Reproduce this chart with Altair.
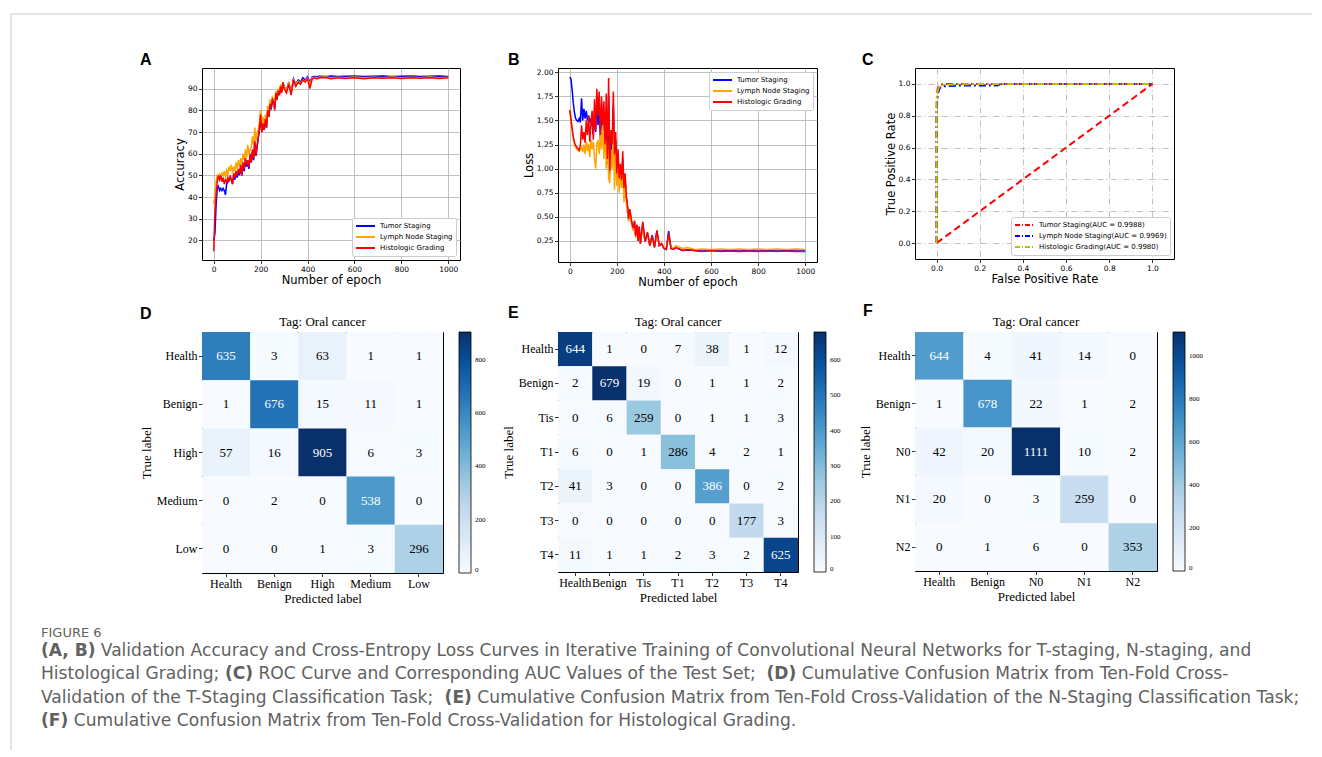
import altair as alt
import pandas as pd

# ---------------- data ----------------
epochs = list(range(0, 300, 5)) + list(range(300, 460, 10)) + [480, 500, 530, 560, 600, 640, 680, 720, 760, 800, 840, 880, 920, 960, 1000]

acc_tumor = [20, 23, 36, 44, 45, 43, 44, 43, 44, 43,
             41, 46, 47, 48, 49, 48, 46, 50, 48, 51,
             49, 52, 50, 54, 50, 55, 52, 57, 54, 56,
             53, 59, 56, 61, 57, 65, 59, 63, 67, 71,
             77, 70, 73, 71, 75, 72, 79, 77, 82, 81,
             84, 84, 81, 87, 85, 89, 87, 91, 89, 93,
             91, 89, 93, 88, 94.5, 92, 94, 93, 95, 94, 95.5, 93, 95.5, 95.6, 95.5, 95.7,
             95.6, 95.8, 95.6, 95.7, 95.8, 95.6, 95.7, 95.8, 95.6, 95.7, 95.8, 95.6, 95.7, 95.8, 95.6]
acc_lymph = [37, 41, 47, 50, 49, 51, 48, 51, 50, 52,
             49, 53, 50, 54, 52, 55, 51, 54, 52, 56,
             53, 57, 54, 58, 55, 60, 57, 62, 58, 64,
             60, 62, 63, 68, 64, 72, 66, 70, 71, 75,
             80, 74, 77, 73, 78, 75, 82, 79, 85, 83,
             86, 85, 84, 89, 87, 90, 88, 92, 90, 93,
             91, 89, 92.5, 88, 94, 92, 93.5, 92.5, 94, 93.5, 95, 92, 95, 95.2, 95, 95.2,
             95.3, 95, 95.2, 95, 95.3, 95, 95.2, 95, 95.3, 95, 95.2, 95, 95.3, 95, 95.2]
acc_hist = [15, 33, 41, 47, 50, 48, 50, 47, 49, 46,
            48, 47, 49, 47, 50, 48, 46, 51, 49, 52,
            50, 53, 51, 55, 50, 56, 53, 58, 55, 57,
            54, 60, 56, 62, 58, 66, 59, 64, 68, 72,
            78, 70, 74, 71, 76, 72, 80, 77, 83, 81,
            85, 84, 80, 88, 85, 89, 87, 91, 88, 93,
            90, 88, 92, 87, 94, 91, 93, 92, 94, 93, 94.5, 90, 94.5, 95, 94.5, 95,
            95, 94.5, 95, 94.7, 95, 94.6, 95, 94.8, 95, 94.7, 95, 94.8, 95, 94.7, 95]

loss_tumor = [1.95, 1.93, 1.82, 1.68, 1.58, 1.52, 1.50, 1.49, 1.52, 1.48,
              1.73, 1.50, 1.62, 1.52, 1.60, 1.50, 1.55, 1.48, 1.52, 1.45,
              1.35, 1.60, 1.38, 1.70, 1.45, 1.65, 1.30, 1.60, 1.40, 1.55,
              1.20, 1.60, 1.05, 1.75, 0.95, 1.30, 1.15, 1.65, 1.05, 1.30,
              0.90, 1.12, 0.85, 1.00, 0.85, 1.10, 0.78, 0.90, 0.70, 0.60,
              0.47, 0.56, 0.48, 0.41, 0.37, 0.45, 0.30, 0.41, 0.25, 0.39,
              0.22, 0.43, 0.24, 0.33, 0.20, 0.31, 0.19, 0.35, 0.20, 0.22, 0.17, 0.16, 0.35, 0.17, 0.16, 0.18,
              0.15, 0.155, 0.15, 0.145, 0.15, 0.145, 0.15, 0.145, 0.15, 0.145, 0.15, 0.145, 0.15, 0.145, 0.145]
loss_lymph = [1.60, 1.50, 1.40, 1.31, 1.25, 1.22, 1.20, 1.19, 1.18, 1.20,
              1.22, 1.17, 1.25, 1.15, 1.28, 1.18, 1.26, 1.12, 1.30, 1.20,
              1.28, 1.10, 1.00, 1.25, 1.30, 1.15, 1.35, 1.20, 1.50, 1.10,
              1.40, 1.00, 1.30, 0.90, 0.85, 1.20, 1.00, 1.45, 0.78, 1.20,
              0.82, 1.05, 0.75, 0.95, 0.80, 1.00, 0.65, 0.85, 0.65, 0.55,
              0.45, 0.55, 0.45, 0.40, 0.35, 0.42, 0.28, 0.38, 0.26, 0.36,
              0.22, 0.40, 0.24, 0.32, 0.21, 0.28, 0.19, 0.30, 0.21, 0.22, 0.18, 0.18, 0.28, 0.18, 0.17, 0.20,
              0.17, 0.18, 0.16, 0.165, 0.16, 0.165, 0.16, 0.165, 0.16, 0.165, 0.16, 0.165, 0.16, 0.165, 0.16]
loss_hist = [1.61, 1.52, 1.42, 1.33, 1.27, 1.24, 1.22, 1.21, 1.19, 1.24,
             1.45, 1.30, 1.38, 1.27, 1.50, 1.35, 1.55, 1.28, 1.48, 1.60,
             1.30, 1.72, 1.40, 1.83, 1.55, 1.80, 1.35, 1.75, 1.45, 1.70,
             1.25, 1.78, 1.10, 1.94, 0.98, 1.40, 1.25, 1.80, 1.15, 1.38,
             0.95, 1.20, 0.90, 1.05, 0.88, 1.18, 0.80, 0.95, 0.72, 0.62,
             0.48, 0.58, 0.50, 0.42, 0.38, 0.46, 0.30, 0.42, 0.25, 0.40,
             0.22, 0.45, 0.24, 0.34, 0.20, 0.30, 0.18, 0.36, 0.20, 0.22, 0.17, 0.16, 0.33, 0.17, 0.16, 0.18,
             0.15, 0.16, 0.15, 0.14, 0.15, 0.14, 0.145, 0.14, 0.145, 0.14, 0.145, 0.14, 0.145, 0.14, 0.14]

series_names = ["Tumor Staging", "Lymph Node Staging", "Histologic Grading"]
series_colors = ["#0000ff", "#ffa500", "#ff0000"]
epoch_ticks = [0, 200, 400, 600, 800, 1000]
acc_ticks = [20, 30, 40, 50, 60, 70, 80, 90]
loss_ticks = [0.25, 0.5, 0.75, 1.0, 1.25, 1.5, 1.75, 2.0]

roc_names = ["Tumor Staging(AUC = 0.9988)", "Lymph Node Staging(AUC = 0.9969)", "Histologic Grading(AUC = 0.9980)"]
roc_colors = ["#ff0000", "#0000ff", "#bfbf00"]
fpr_tumor = [0, 0, 0.002, 0.005, 0.01, 0.02, 0.04, 0.1, 1.0]
tpr_tumor = [0, 0.85, 0.93, 0.97, 0.985, 0.995, 1.0, 1.0, 1.0]
fpr_lymph = [0, 0, 0.003, 0.008, 0.015, 0.03, 0.1, 0.28, 0.3, 1.0]
tpr_lymph = [0, 0.80, 0.90, 0.95, 0.975, 0.985, 0.99, 0.99, 1.0, 1.0]
fpr_hist = [0, 0, 0.004, 0.01, 0.02, 0.05, 0.2, 1.0]
tpr_hist = [0, 0.90, 0.95, 0.975, 0.99, 0.995, 1.0, 1.0]
diag_fpr = [0, 1]
diag_tpr = [0, 1]
rate_ticks = [0, 0.2, 0.4, 0.6, 0.8, 1.0]

cm_d_labels = ["Health", "Benign", "High", "Medium", "Low"]
cm_d = [[635, 3, 63, 1, 1],
        [1, 676, 15, 11, 1],
        [57, 16, 905, 6, 3],
        [0, 2, 0, 538, 0],
        [0, 0, 1, 3, 296]]
cm_d_ticks = [0, 200, 400, 600, 800]

cm_e_labels = ["Health", "Benign", "Tis", "T1", "T2", "T3", "T4"]
cm_e = [[644, 1, 0, 7, 38, 1, 12],
        [2, 679, 19, 0, 1, 1, 2],
        [0, 6, 259, 0, 1, 1, 3],
        [6, 0, 1, 286, 4, 2, 1],
        [41, 3, 0, 0, 386, 0, 2],
        [0, 0, 0, 0, 0, 177, 3],
        [11, 1, 1, 2, 3, 2, 625]]
cm_e_ticks = [0, 100, 200, 300, 400, 500, 600]

cm_f_labels = ["Health", "Benign", "N0", "N1", "N2"]
cm_f = [[644, 4, 41, 14, 0],
        [1, 678, 22, 1, 2],
        [42, 20, 1111, 10, 2],
        [20, 0, 3, 259, 0],
        [0, 1, 6, 0, 353]]
cm_f_ticks = [0, 200, 400, 600, 800, 1000]

blues = ["#f7fbff", "#deebf7", "#c6dbef", "#9ecae1", "#6baed6", "#4292c6", "#2171b5", "#08519c", "#08306b"]

caption_head = "FIGURE 6"
caption_lines = [
    [("(A, B)", True), ("Validation Accuracy and Cross-Entropy Loss Curves in Iterative Training of Convolutional Neural Networks for T-staging, N-staging, and", False)],
    [("Histological Grading;", False), ("(C)", True), ("ROC Curve and Corresponding AUC Values of the Test Set;", False), ("(D)", True), ("Cumulative Confusion Matrix from Ten-Fold Cross-", False)],
    [("Validation of the T-Staging Classification Task;", False), ("(E)", True), ("Cumulative Confusion Matrix from Ten-Fold Cross-Validation of the N-Staging Classification Task;", False)],
    [("(F)", True), ("Cumulative Confusion Matrix from Ten-Fold Cross-Validation for Histological Grading.", False)],
]

# ---------------- layout helpers ----------------
# approximate DejaVu Sans advance widths (em), used only to place caption segments side by side
DJ = {" ": .318, "(": .390, ")": .390, ",": .318, "-": .361, ".": .318, ";": .337, "=": .838,
      "A": .684, "B": .686, "C": .698, "D": .770, "E": .632, "F": .575, "G": .775, "H": .752, "I": .295,
      "J": .295, "K": .656, "L": .557, "M": .863, "N": .748, "O": .787, "P": .603, "Q": .787, "R": .695,
      "S": .635, "T": .611, "U": .732, "V": .684, "W": .989, "X": .685, "Y": .611, "Z": .685,
      "a": .613, "b": .635, "c": .550, "d": .635, "e": .615, "f": .352, "g": .635, "h": .634, "i": .278,
      "j": .278, "k": .579, "l": .278, "m": .974, "n": .634, "o": .612, "p": .635, "q": .635, "r": .411,
      "s": .521, "t": .392, "u": .634, "v": .592, "w": .818, "x": .592, "y": .592, "z": .525}
DJB = {" ": .348, "(": .457, ")": .457, ",": .380, "A": .774, "B": .762, "C": .734, "D": .830, "E": .683, "F": .683}


def text_width(s, size, bold):
    tot = 0.0
    for ch in s:
        w = DJ.get(ch, 0.6)
        if bold:
            w = DJB.get(ch, w * 1.1)
        tot += w
    return tot * size


CAP_SIZE = 17.1
CAP_LEFT = -161            # page x 40, relative to panel A's plot origin
CAP_BASE = [588, 611, 634.5, 658]

one = pd.DataFrame({"k": [0]})
CAP = "#616161"


def label(text, x, y, size, font, color="black", weight="normal"):
    return alt.Chart(one).mark_text(text=text, font=font, fontSize=size, fontWeight=weight,
                                    color=color, align="left", baseline="alphabetic").encode(
        x=alt.value(x), y=alt.value(y))


def letter(ch, x, y):
    return label(ch, x, y, 16, "Liberation Sans", weight="bold")


def lin_axis(title, values, fmt, dash=None):
    kw = dict(title=title, values=values, format=fmt, grid=True, gridColor="#b0b0b0", gridWidth=0.8,
              domain=False, ticks=True, tickColor="black", tickSize=3.5, tickWidth=0.8,
              labelFont="DejaVu Sans", labelFontSize=7.5, labelColor="black", labelPadding=1.5,
              labelOverlap=False,
              titleFont="DejaVu Sans", titleFontSize=11.5, titleFontWeight="normal", titleColor="black",
              titlePadding=2)
    if dash:
        kw["gridDash"] = dash
    return alt.Axis(**kw)


def line_legend(orient, dash=None):
    kw = dict(title=None, orient=orient, offset=4, symbolType="stroke", symbolSize=360,
              symbolStrokeWidth=1.8, labelFont="DejaVu Sans", labelFontSize=7, labelColor="black",
              labelOffset=4, padding=3, rowPadding=1, clipHeight=10, strokeColor="#cccccc",
              fillColor="white", cornerRadius=2)
    if dash:
        kw["symbolDash"] = dash
    return alt.Legend(**kw)


def curve_panel(series_values, ydom, yticks, ytitle, yfmt, orient):
    layers = []
    for name, vals in zip(series_names, series_values):
        df = pd.DataFrame({"epoch": epochs, "value": vals, "series": name})
        layers.append(alt.Chart(df).mark_line(strokeWidth=1.5).encode(
            x=alt.X("epoch:Q", scale=alt.Scale(domain=[-50, 1050], nice=False, zero=False),
                    axis=lin_axis("Number of epoch", epoch_ticks, "d")),
            y=alt.Y("value:Q", scale=alt.Scale(domain=ydom, nice=False, zero=False),
                    axis=lin_axis(ytitle, yticks, yfmt)),
            color=alt.Color("series:N", scale=alt.Scale(domain=series_names, range=series_colors),
                            legend=line_legend(orient))))
    return layers


# ---------------- Panel A (also carries the frame, letters and caption) ----------------
A_layers = curve_panel([acc_tumor, acc_lymph, acc_hist], [11, 99.5], acc_ticks, "Accuracy", "d", "bottom-right")
A_extra = [letter("A", -62, -3), letter("D", -62, 250.5), letter("E", 306, 250), letter("F", 661, 248),
           alt.Chart(one).mark_rule(color="#cccccc", strokeWidth=1).encode(
               x=alt.value(-191), x2=alt.value(1110), y=alt.value(-54)),
           alt.Chart(one).mark_rule(color="#cccccc", strokeWidth=1).encode(
               x=alt.value(-191), y=alt.value(-54), y2=alt.value(682)),
           label(caption_head, CAP_LEFT, 569, 13, "DejaVu Sans", color=CAP)]
for segs, base_y in zip(caption_lines, CAP_BASE):
    cx = CAP_LEFT
    for txt, bold in segs:
        A_extra.append(label(txt, cx, base_y, CAP_SIZE, "DejaVu Sans", color=CAP,
                             weight="bold" if bold else "normal"))
        cx += text_width(txt, CAP_SIZE, bold) + text_width(" ", CAP_SIZE, False)
A = alt.layer(*A_layers, *A_extra).properties(width=258, height=192)

# ---------------- Panel B ----------------
B_layers = curve_panel([loss_tumor, loss_lymph, loss_hist], [0.03, 2.045], loss_ticks, "Loss", ".2f", "top-right")
B = alt.layer(*B_layers, letter("B", -50, -3.5)).properties(width=259, height=194)

# ---------------- Panel C ----------------
roc_x = alt.X("fpr:Q", scale=alt.Scale(domain=[-0.1, 1.1], nice=False, zero=False),
              axis=lin_axis("False Positive Rate", rate_ticks, ".1f", [6, 3, 1, 3]))
roc_y = alt.Y("tpr:Q", scale=alt.Scale(domain=[-0.1, 1.1], nice=False, zero=False),
              axis=lin_axis("True Positive Rate", rate_ticks, ".1f", [6, 3, 1, 3]))
roc_layers = []
for name, fx, ty in zip(roc_names, [fpr_tumor, fpr_lymph, fpr_hist], [tpr_tumor, tpr_lymph, tpr_hist]):
    df = pd.DataFrame({"fpr": fx, "tpr": ty, "series": name, "idx": list(range(len(fx)))})
    roc_layers.append(alt.Chart(df).mark_line(strokeWidth=2, strokeDash=[7, 3, 2, 3]).encode(
        x=roc_x, y=roc_y, order="idx:Q",
        color=alt.Color("series:N", scale=alt.Scale(domain=roc_names, range=roc_colors),
                        legend=line_legend("bottom-right", [5, 2, 1, 2]))))
diag = alt.Chart(pd.DataFrame({"fpr": diag_fpr, "tpr": diag_tpr})).mark_line(
    color="#ff0000", strokeWidth=2, strokeDash=[7, 4]).encode(x=roc_x, y=roc_y)
C = alt.layer(*roc_layers[:1], diag, *roc_layers[1:], letter("C", -53, -3)).properties(width=259, height=191)


# ---------------- Confusion matrices ----------------
def cm_panel(labels, matrix, ticks, w, h):
    rows = []
    for i, t in enumerate(labels):
        for j, p in enumerate(labels):
            rows.append({"true": t, "pred": p, "v": matrix[i][j]})
    df = pd.DataFrame(rows)
    vmax = max(max(r) for r in matrix)
    stops = [vmax * k / 8 for k in range(9)]
    ax = dict(labelFont="Liberation Serif", labelFontSize=12, labelColor="black", labelAngle=0,
              tickSize=3.5, tickColor="black", tickWidth=0.8, domain=False, grid=False, labelPadding=1.5,
              titleFont="Liberation Serif", titleFontSize=13, titleFontWeight="normal", titleColor="black",
              titlePadding=3)
    base = alt.Chart(df).encode(
        x=alt.X("pred:N", sort=labels, scale=alt.Scale(paddingInner=0, paddingOuter=0),
                axis=alt.Axis(title="Predicted label", **ax)),
        y=alt.Y("true:N", sort=labels, scale=alt.Scale(paddingInner=0, paddingOuter=0),
                axis=alt.Axis(title="True label", **ax)))
    rect = base.mark_rect().encode(
        color=alt.Color("v:Q", scale=alt.Scale(domain=stops, range=blues, interpolate="rgb"),
                        legend=alt.Legend(title=None, orient="right", offset=16, direction="vertical",
                                          gradientLength=h, gradientThickness=12,
                                          gradientStrokeColor="black", gradientStrokeWidth=0.8,
                                          labelFont="Liberation Serif", labelFontSize=7, labelColor="black",
                                          labelOffset=4, values=ticks, format="d")))
    text = base.mark_text(font="Liberation Serif", fontSize=13).encode(
        text="v:Q",
        color=alt.condition(f"datum.v > {vmax / 2}", alt.value("white"), alt.value("black")))
    return alt.layer(rect, text).properties(
        width=w, height=h,
        title=alt.TitleParams("Tag: Oral cancer", font="Liberation Serif", fontSize=13,
                              fontWeight="normal", color="black", offset=3))


D = cm_panel(cm_d_labels, cm_d, cm_d_ticks, 241, 241)
E = cm_panel(cm_e_labels, cm_e, cm_e_ticks, 240, 240)
F = cm_panel(cm_f_labels, cm_f, cm_f_ticks, 242, 239)

chart = alt.concat(A, B, C, D, E, F, columns=3, spacing={"row": 70, "column": 98}, bounds="flush").resolve_scale(
    color="independent").properties(
    padding={"left": 2, "top": 5, "right": 0, "bottom": 0}).configure_view(
    stroke="black", strokeWidth=1)

chart.save("out.html", embed_options={"renderer": "svg", "actions": False})
